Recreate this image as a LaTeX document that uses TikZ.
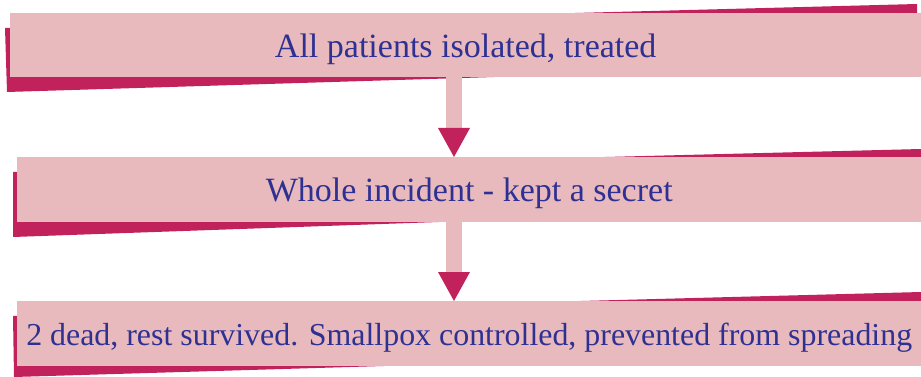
\documentclass[tikz,border=0pt]{standalone}
\usepackage{fontspec}
\setmainfont{Liberation Serif}
\usepackage{xcolor}
\usetikzlibrary{arrows.meta}
\definecolor{boxpink}{HTML}{E8B9BD}
\definecolor{backred}{HTML}{C2225C}
\definecolor{textblue}{HTML}{2E3192}

\begin{document}
\begin{tikzpicture}[x=1pt,y=-1pt,
        stepbox/.style={fill=boxpink, inner sep=0pt, anchor=north west, minimum height=65pt,
                text height=26pt, text depth=2pt,
                text=textblue, font=\fontsize{34}{38}\selectfont},
        flow/.style={boxpink, line width=16pt,
                -{Triangle[width=32pt,length=29pt,line width=0pt,color=backred]}}]
                \useasboundingbox (0,0) rectangle (921,377);
                % slanted backings
                \fill[backred] (5,28) -- (917,4) -- (917,64) -- (7,92) -- cycle;
                \fill[backred] (13,172) -- (921,149) -- (921,205) -- (13,237) -- cycle;
                \fill[backred] (13,316) -- (921,292) -- (921,350) -- (14,377) -- cycle;
                % boxes
                \node[stepbox, minimum width=911pt, minimum height=64pt] (isolated) at (10,13) {All patients isolated, treated};
                \node[stepbox, minimum width=904pt] (secret) at (17,157) {Whole incident - kept a secret};
                \node[stepbox, minimum width=904pt, font=\fontsize{31.9}{38}\selectfont] (outcome) at (17,301) {2 dead, rest survived. Smallpox controlled, prevented from spreading};
                % arrows
                \draw[flow] (isolated.south -| 454,0) -- (secret.north -| 454,0);
                \draw[flow] (secret.south -| 454,0) -- (outcome.north -| 454,0);
            \end{tikzpicture}
\end{document}
